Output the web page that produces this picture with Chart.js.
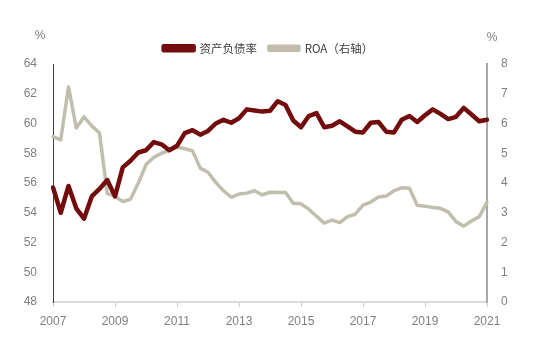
<!DOCTYPE html>
<html>
<head>
<meta charset="utf-8">
<script src="https://cdn.jsdelivr.net/npm/chart.js@4/dist/chart.umd.min.js"></script>
<style>
html,body{margin:0;padding:0;background:#fff;}
#wrap{width:537px;height:349px;position:relative;}
</style>
</head>
<body>
<div id="wrap"><canvas id="c" width="537" height="349"></canvas></div>
<script>
// Categories: quarterly from 2007Q1 to 2021Q1
const quarters = [];
for (let y = 2007; y <= 2021; y++) {
  for (let q = 1; q <= 4; q++) {
    if (y === 2021 && q > 1) break;
    quarters.push(y + 'Q' + q);
  }
}
const yearTickLabels = ['2007','2009','2011','2013','2015','2017','2019','2021'];

const seriesNames = ['资产负债率', 'ROA（右轴）'];

const debtRatio = [
  55.7, 54.0, 55.8, 54.3, 53.6, 55.1, 55.6, 56.2,
  55.1, 57.05, 57.5, 58.05, 58.2, 58.75, 58.6, 58.2,
  58.5, 59.35, 59.55, 59.25, 59.5, 60.0, 60.25, 60.05,
  60.35, 60.95, 60.88, 60.8, 60.85, 61.5, 61.25, 60.2,
  59.75, 60.5, 60.7, 59.75, 59.85, 60.15, 59.8, 59.45,
  59.4, 60.05, 60.1, 59.45, 59.4, 60.25, 60.5, 60.1,
  60.55, 60.95, 60.65, 60.3, 60.45, 61.05, 60.6, 60.15,
  60.25
];

const roa = [
  5.56, 5.45, 7.23, 5.85, 6.22, 5.92, 5.68, 3.65,
  3.55, 3.38, 3.45, 3.99, 4.62, 4.86, 5.0, 5.1,
  5.2, 5.15, 5.08, 4.5, 4.36, 4.02, 3.74, 3.52,
  3.63, 3.66, 3.74, 3.6, 3.69, 3.68, 3.68, 3.32,
  3.3, 3.12, 2.88, 2.65, 2.75, 2.67, 2.87, 2.95,
  3.26, 3.36, 3.53, 3.56, 3.74, 3.84, 3.82, 3.25,
  3.22, 3.18, 3.15, 3.03, 2.7, 2.55, 2.72, 2.87,
  3.35
];

const leftTicks = [48, 50, 52, 54, 56, 58, 60, 62, 64];
const rightTicks = [0, 1, 2, 3, 4, 5, 6, 7, 8];

const RED = '#730c0c';
const GREY = '#c0bfae';
const TICKFONT = {family: '"Liberation Sans Narrow", "Liberation Sans", sans-serif', size: 12};
const TICKCOLOR = '#7f7f7f';

function isYearTick(i) {
  const lab = quarters[i];
  return lab && lab.endsWith('Q1') && yearTickLabels.includes(lab.slice(0, 4));
}

const percentPlugin = {
  id: 'percentLabels',
  afterDraw(chart) {
    const ctx = chart.ctx;
    ctx.save();
    ctx.fillStyle = TICKCOLOR;
    ctx.font = '12px "Liberation Sans Narrow", "Liberation Sans", sans-serif';
    ctx.textBaseline = 'middle';
    ctx.textAlign = 'center';
    ctx.fillText('%', 40, 36);
    ctx.fillText('%', 492, 38);
    ctx.restore();
  }
};

new Chart(document.getElementById('c'), {
  type: 'line',
  data: {
    labels: quarters,
    datasets: [
      {
        label: seriesNames[0],
        data: debtRatio,
        yAxisID: 'yL',
        borderColor: RED,
        backgroundColor: RED,
        borderWidth: 4.5,
        pointRadius: 0,
        tension: 0,
        borderJoinStyle: 'round',
        borderCapStyle: 'round'
      },
      {
        label: seriesNames[1],
        data: roa,
        yAxisID: 'yR',
        borderColor: GREY,
        backgroundColor: GREY,
        borderWidth: 3.5,
        pointRadius: 0,
        tension: 0,
        borderJoinStyle: 'round',
        borderCapStyle: 'round'
      }
    ]
  },
  options: {
    responsive: false,
    animation: false,
    devicePixelRatio: 1,
    layout: {padding: {top: 18, left: 0, right: 0, bottom: 0}},
    plugins: {
      legend: {
        display: true,
        position: 'top',
        labels: {
          boxWidth: 30,
          boxHeight: 4,
          padding: 12,
          color: '#404040',
          font: {family: '"Noto Sans CJK SC", "Noto Sans", sans-serif', size: 11.5}
        }
      },
      tooltip: {enabled: false}
    },
    scales: {
      x: {
        type: 'category',
        offset: false,
        grid: {
          display: true,
          drawOnChartArea: false,
          drawTicks: true,
          tickLength: 5,
          lineWidth: 1,
          color: (ctx) => (ctx.index !== undefined && isYearTick(ctx.index)) ? '#d0d0d0' : 'rgba(0,0,0,0)'
        },
        border: {display: true, color: '#d9d9d9', width: 2},
        ticks: {
          autoSkip: false,
          maxRotation: 0,
          padding: 7,
          color: TICKCOLOR,
          font: TICKFONT,
          callback: function(val, i) { return isYearTick(i) ? quarters[i].slice(0, 4) : ''; }
        },
        afterFit: (s) => { s.height = 47; }
      },
      yL: {
        type: 'linear',
        position: 'left',
        min: 48,
        max: 64,
        afterBuildTicks: (s) => { s.ticks = leftTicks.map(v => ({value: v})); },
        grid: {display: false, drawTicks: false},
        border: {display: true, color: '#404040', width: 1},
        ticks: {padding: 16, color: TICKCOLOR, font: TICKFONT},
        afterFit: (s) => { s.width = 53; s.paddingTop = 64; }
      },
      yR: {
        type: 'linear',
        position: 'right',
        min: 0,
        max: 8,
        afterBuildTicks: (s) => { s.ticks = rightTicks.map(v => ({value: v})); },
        grid: {display: false, drawTicks: false},
        border: {display: true, color: '#a8a8a8', width: 2},
        ticks: {padding: 14, color: TICKCOLOR, font: TICKFONT},
        afterFit: (s) => { s.width = 50; s.paddingTop = 64; }
      }
    }
  },
  plugins: [percentPlugin]
});
</script>
</body>
</html>
